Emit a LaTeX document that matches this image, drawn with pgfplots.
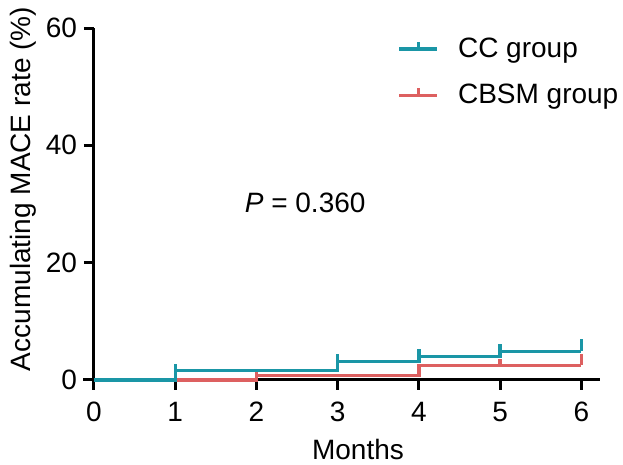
\documentclass[border=0pt]{standalone}
\usepackage{pgfplots}
\pgfplotsset{compat=1.18}
\usepackage{fontspec}
\setmainfont{Liberation Sans}
\definecolor{ccteal}{RGB}{26,150,166}
\definecolor{cbred}{RGB}{221,96,96}

\begin{document}
\begin{tikzpicture}
\begin{axis}[
    scale only axis,
    width=253pt, height=176pt,
    xmin=0, xmax=6.23,
    ymin=0, ymax=60,
    axis x line=bottom, axis y line=left,
    axis line style={-, line width=1.5pt},
    xtick={0,1,2,3,4,5,6},
    ytick={0,20,40,60},
    tick align=outside,
    major tick length=5pt,
    tick style={line width=1.5pt, black},
    xlabel={Months},
    ylabel={Accumulating MACE rate (\%)},
    every tick label/.append style={font=\fontsize{14}{16}\selectfont},
    xticklabel style={yshift=-2.5pt},
    label style={font=\fontsize{14}{16}\selectfont},
    xlabel style={xshift=5.5pt, yshift=-2pt},
    ylabel style={xshift=7.5pt, yshift=-2pt},
    /pgf/number format/assume math mode=true,
    clip=false,
    unbounded coords=jump,
    legend style={draw=none, fill=none, at={(axis cs:3.66,59.8)}, anchor=north west,
        font=\fontsize{14}{16}\selectfont, row sep=8pt},
    legend cell align=left,
    legend image code/.code={
        \draw[#1] (0pt,0pt) -- (19pt,0pt);
        \draw[#1] (9.5pt,0pt) -- (9.5pt,3.5pt);
        \path (26.5pt,0pt);
    },
]
% axis extension to the left of zero
\draw[line width=1.5pt] (axis cs:-0.135,0) -- (axis cs:0,0);

% CBSM group
\addplot[cbred, line width=1.7pt, const plot, forget plot] coordinates {
    (0,0) (2,0.8) (4,2.5) (6,2.5)
};
\addplot[cbred, line width=1.7pt, forget plot] coordinates {
    (2,0.8) (2,1.8)
    (5,nan)
    (5,2.5) (5,3.5)
    (6,nan)
    (6,2.5) (6,4.5)
};

% CC group
\addplot[ccteal, line width=1.7pt, const plot, forget plot] coordinates {
    (0,0) (1,1.6) (3,3.2) (4,4.0) (5,4.9) (6,4.9)
};
\addplot[ccteal, line width=1.7pt, forget plot] coordinates {
    (1,1.6) (1,2.7)
    (3,nan)
    (3,3.2) (3,4.4)
    (4,nan)
    (4,4.0) (4,5.2)
    (5,nan)
    (5,4.9) (5,6.1)
    (6,nan)
    (6,4.9) (6,7.0)
};

\addlegendimage{ccteal, line width=1.7pt}
\addlegendentry{CC group}
\addlegendimage{cbred, line width=1.7pt}
\addlegendentry{CBSM group}

\node[font=\fontsize{14}{16}\selectfont] at (axis cs:2.6,30.2) {\textit{P} = 0.360};
\end{axis}
\pgfresetboundingbox
\path (-47pt,-42.5pt) rectangle (264.5pt,190pt);
\end{tikzpicture}
\end{document}
